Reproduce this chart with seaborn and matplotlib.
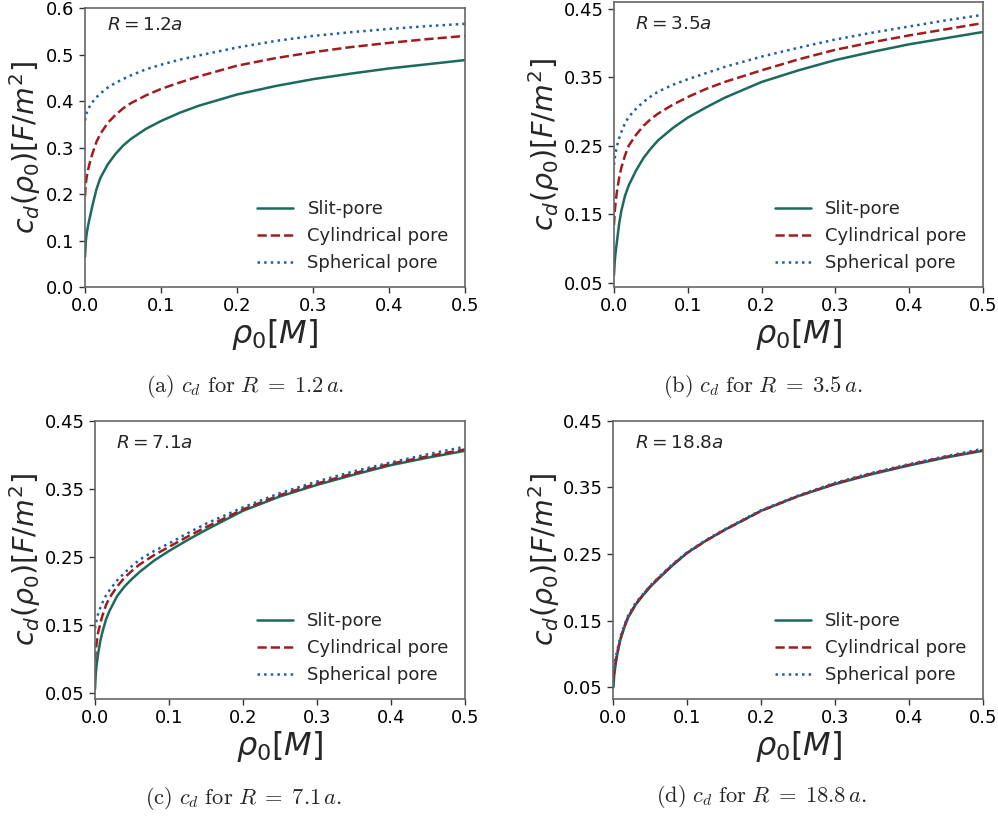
import numpy as np
import pandas as pd
import matplotlib
matplotlib.use("Agg")
import matplotlib.pyplot as plt
import seaborn as sns

# ---------------- data ----------------
rho = [0, 0.001, 0.002, 0.004, 0.007, 0.01, 0.015, 0.02, 0.03, 0.04, 0.05,
       0.06, 0.08, 0.1, 0.125, 0.15, 0.2, 0.25, 0.3, 0.35, 0.4, 0.45, 0.5]

series_names = ["Slit-pore", "Cylindrical pore", "Spherical pore"]
radii = ["1.2", "3.5", "7.1", "18.8"]
panel_letters = ["a", "b", "c", "d"]

# R = 1.2a
slit_12 = [0.065, 0.098, 0.113, 0.132, 0.155, 0.177, 0.210, 0.234, 0.264, 0.286, 0.304,
           0.318, 0.340, 0.357, 0.375, 0.390, 0.414, 0.432, 0.447, 0.459, 0.470, 0.479, 0.488]
cyl_12 = [0.195, 0.222, 0.235, 0.252, 0.272, 0.288, 0.312, 0.329, 0.353, 0.370, 0.384,
          0.395, 0.412, 0.426, 0.440, 0.453, 0.476, 0.492, 0.505, 0.516, 0.525, 0.533, 0.540]
sph_12 = [0.358, 0.368, 0.374, 0.382, 0.391, 0.398, 0.408, 0.416, 0.429, 0.439, 0.447,
          0.455, 0.468, 0.478, 0.489, 0.498, 0.515, 0.529, 0.540, 0.548, 0.555, 0.561, 0.566]

# R = 3.5a
slit_35 = [0.061, 0.080, 0.092, 0.110, 0.136, 0.155, 0.177, 0.192, 0.214, 0.232, 0.246,
           0.258, 0.276, 0.291, 0.306, 0.320, 0.343, 0.360, 0.375, 0.387, 0.398, 0.407, 0.416]
cyl_35 = [0.134, 0.153, 0.165, 0.183, 0.203, 0.218, 0.236, 0.250, 0.266, 0.279, 0.289,
          0.297, 0.310, 0.321, 0.333, 0.343, 0.360, 0.376, 0.390, 0.401, 0.411, 0.420, 0.429]
sph_35 = [0.222, 0.232, 0.239, 0.249, 0.261, 0.270, 0.283, 0.292, 0.304, 0.314, 0.322,
          0.329, 0.339, 0.347, 0.356, 0.365, 0.380, 0.393, 0.405, 0.415, 0.424, 0.433, 0.441]

# R = 7.1a
slit_71 = [0.056, 0.078, 0.090, 0.107, 0.126, 0.140, 0.159, 0.172, 0.193, 0.207, 0.218,
           0.228, 0.245, 0.259, 0.275, 0.290, 0.318, 0.339, 0.356, 0.371, 0.385, 0.396, 0.406]
cyl_71 = [0.098, 0.113, 0.122, 0.138, 0.152, 0.164, 0.180, 0.191, 0.207, 0.220, 0.230,
          0.239, 0.253, 0.265, 0.280, 0.294, 0.320, 0.341, 0.358, 0.373, 0.387, 0.398, 0.408]
sph_71 = [0.145, 0.152, 0.157, 0.166, 0.175, 0.183, 0.194, 0.202, 0.216, 0.227, 0.237,
          0.246, 0.259, 0.270, 0.285, 0.299, 0.323, 0.344, 0.361, 0.376, 0.389, 0.401, 0.412]

# R = 18.8a
slit_188 = [0.050, 0.068, 0.077, 0.092, 0.110, 0.124, 0.141, 0.155, 0.174, 0.188, 0.201,
            0.212, 0.233, 0.252, 0.270, 0.286, 0.315, 0.337, 0.355, 0.370, 0.383, 0.395, 0.405]
cyl_188 = [0.064, 0.075, 0.082, 0.095, 0.112, 0.125, 0.142, 0.156, 0.175, 0.189, 0.202,
           0.213, 0.234, 0.252, 0.270, 0.286, 0.315, 0.337, 0.356, 0.371, 0.384, 0.396, 0.406]
sph_188 = [0.079, 0.085, 0.090, 0.100, 0.115, 0.128, 0.144, 0.158, 0.177, 0.190, 0.203,
           0.214, 0.235, 0.253, 0.271, 0.287, 0.316, 0.338, 0.357, 0.372, 0.385, 0.397, 0.408]

panel_data = [
    (slit_12, cyl_12, sph_12),
    (slit_35, cyl_35, sph_35),
    (slit_71, cyl_71, sph_71),
    (slit_188, cyl_188, sph_188),
]

y_ticks = [
    [0.0, 0.1, 0.2, 0.3, 0.4, 0.5, 0.6],
    [0.05, 0.15, 0.25, 0.35, 0.45],
    [0.05, 0.15, 0.25, 0.35, 0.45],
    [0.05, 0.15, 0.25, 0.35, 0.45],
]
y_tick_labels = [
    ["0.0", "0.1", "0.2", "0.3", "0.4", "0.5", "0.6"],
    ["0.05", "0.15", "0.25", "0.35", "0.45"],
    ["0.05", "0.15", "0.25", "0.35", "0.45"],
    ["0.05", "0.15", "0.25", "0.35", "0.45"],
]
x_ticks = [0.0, 0.1, 0.2, 0.3, 0.4, 0.5]
x_tick_labels = ["0.0", "0.1", "0.2", "0.3", "0.4", "0.5"]

# ---------------- styling ----------------
sns.set_style("ticks")
plt.rcParams["font.family"] = ["DejaVu Sans"]

colors = ["#1b6a5b", "#a01c1f", "#1f5fa5"]
styles = ["-", "--", ":"]

fig = plt.figure(figsize=(9.98, 8.17), dpi=100)

axes_rects = [
    [0.0852, 0.6487, 0.3808, 0.3415],
    [0.6152, 0.6487, 0.3697, 0.3488],
    [0.0952, 0.1444, 0.3707, 0.3405],
    [0.6147, 0.1444, 0.3702, 0.3405],
]
y_lims = [(0.0, 0.6), (0.0437, 0.4597), (0.0417, 0.45), (0.0325, 0.45)]
r_text_y = [0.939, 0.923, 0.922, 0.922]
ylabel_x = [-0.1105, -0.141, -0.1405, -0.139]
caption_pos = [(245, 387), (763, 387), (244, 798), (761, 797)]

W, H = 998, 817
for i in range(4):
    ax = fig.add_axes(axes_rects[i])
    df = pd.DataFrame({"rho": rho * 3,
                       "cd": panel_data[i][0] + panel_data[i][1] + panel_data[i][2],
                       "pore": sum([[n] * len(rho) for n in series_names], [])})
    for j, name in enumerate(series_names):
        sub = df[df["pore"] == name]
        sns.lineplot(data=sub, x="rho", y="cd", ax=ax, color=colors[j],
                     linestyle=styles[j], linewidth=1.8, label=name,
                     estimator=None, sort=True)
    ax.set_xlim(0, 0.5)
    ax.set_ylim(*y_lims[i])
    ax.set_xticks(x_ticks)
    ax.set_xticklabels(x_tick_labels)
    ax.set_yticks(y_ticks[i])
    ax.set_yticklabels(y_tick_labels[i])
    ax.tick_params(labelsize=13, length=4, width=1, colors="#333333", labelcolor="black")
    for sp in ax.spines.values():
        sp.set_visible(True)
        sp.set_color("#666666")
        sp.set_linewidth(1.2)
    ax.set_xlabel(r"$\rho_0[M]$", fontsize=23, labelpad=1)
    ax.set_ylabel(r"$c_d(\rho_0)[F/m^2]$", fontsize=20.5)
    ax.yaxis.set_label_coords(ylabel_x[i], 0.5)
    ax.text(0.058, r_text_y[i], r"$R = %sa$" % radii[i], transform=ax.transAxes,
            fontsize=13.3, va="center", ha="left")
    ax.legend(loc="lower right", frameon=False, fontsize=13,
              bbox_to_anchor=(1.0, -0.005))
    cx, cy = caption_pos[i]
    fig.text(cx / W, 1 - cy / H,
             r"$\mathrm{(%s)}\ c_d\ \mathrm{for}\ R\;=\;%s\,a.$" % (panel_letters[i], radii[i]),
             ha="center", va="center", fontsize=16.2, math_fontfamily="cm")

fig.savefig("out.png", dpi=100)
